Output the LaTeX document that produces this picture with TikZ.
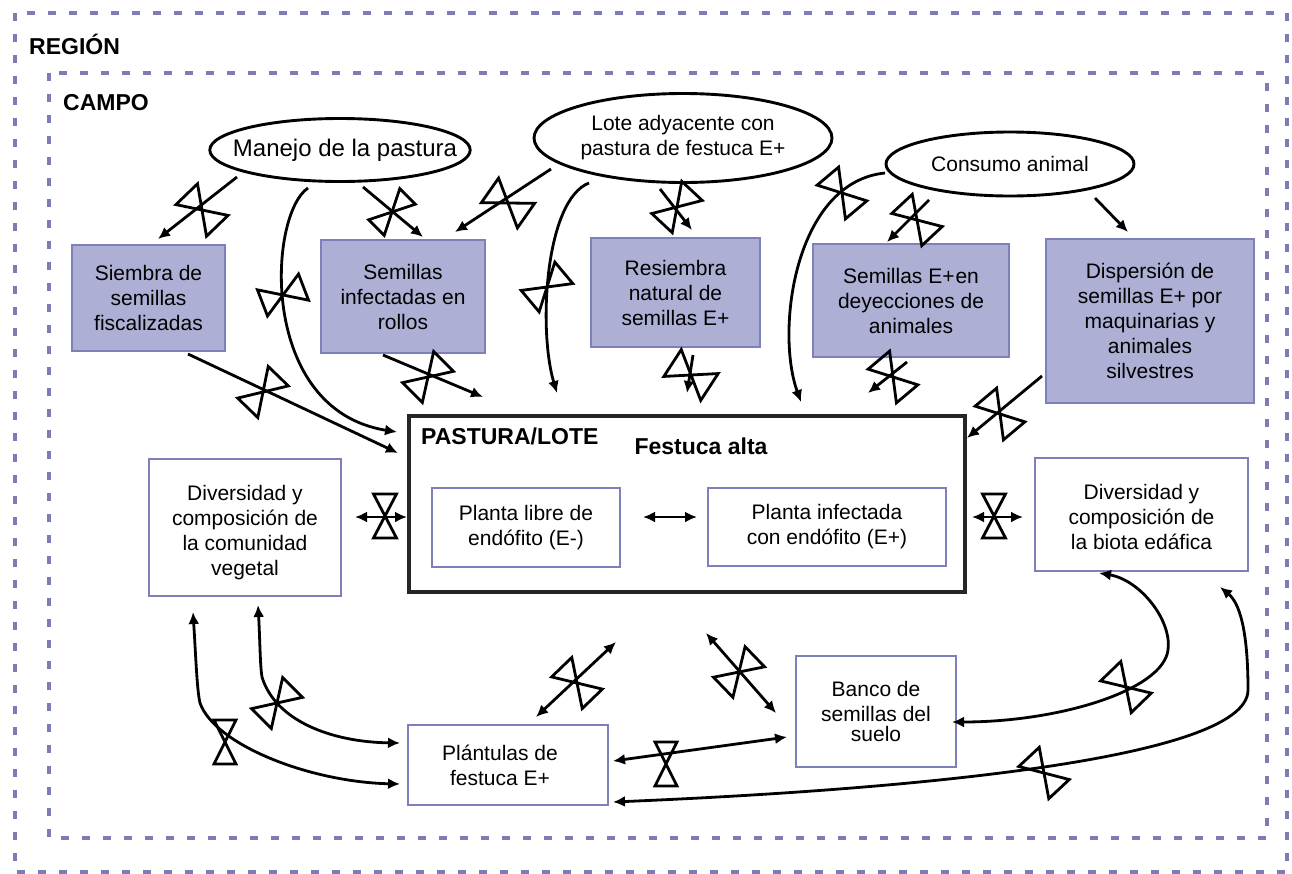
\documentclass[tikz,border=0pt]{standalone}
\usepackage{fontspec}
\setmainfont{Liberation Sans}
\usetikzlibrary{arrows.meta,shapes.geometric}
\definecolor{boxfill}{RGB}{173,175,212}
\definecolor{boxline}{RGB}{126,128,188}
\definecolor{frameline}{RGB}{125,125,182}
\tikzset{
  every node/.style={font=\fontsize{21}{25}\selectfont},
  fbox/.style={rectangle, draw=boxline, fill=boxfill, line width=2pt, align=center, inner sep=0pt},
  wbox/.style={rectangle, draw=boxline, fill=white, line width=2pt, align=center, inner sep=0pt},
  pbox/.style={rectangle, draw=black!85, fill=white, line width=3.5pt, inner sep=0pt},
  oval/.style={ellipse, draw=black, line width=2.9pt, align=center, inner sep=0pt},
  ttl/.style={font=\fontsize{23}{27}\selectfont\bfseries, anchor=west, inner sep=0pt},
  bld/.style={font=\fontsize{23}{27}\selectfont\bfseries, inner sep=0pt},
  conn/.style={line width=2.8pt, -{Latex[length=12pt,width=11pt]}},
  bconn/.style={line width=2.8pt, {Latex[length=12pt,width=11pt]}-{Latex[length=12pt,width=11pt]}},
  frm/.style={draw=frameline, line width=3.6pt, dash pattern=on 8pt off 13pt},
  valvehw/.store in=\valvehw, valvehw=12,
  pics/valve/.style={code={
    \draw[line width=2.8pt, line join=miter]
      (-\valvehw,-22) -- (\valvehw,-22) -- (0,0) -- cycle
      (-\valvehw,22) -- (\valvehw,22) -- (0,0) -- cycle;}},
}
\begin{document}
\begin{tikzpicture}[x=1pt,y=-1pt]
\useasboundingbox (0,0) rectangle (1292,873);
% frames
\draw[frm] (15,13) rectangle (1287,872);
\draw[frm] (49,73) rectangle (1267,838);
\node[ttl] (region) at (29,44) {REGIÓN};
\node[ttl] (campo) at (63,103) {CAMPO};

% ovals
\node[oval, minimum width=256, minimum height=63, inner xsep=-25pt, font=\fontsize{24}{28}\selectfont] (manejo) at (340,150) {\hspace*{10pt}Manejo de la pastura};
\node[oval, minimum width=298, minimum height=89] (lote) at (683,138) {Lote adyacente con\\pastura de festuca E+};
\node[oval, minimum width=248, minimum height=64] (consumo) at (1010,164) {Consumo animal};

% filled boxes
\node[fbox, minimum width=153, minimum height=106] (siembra) at (148.5,298) {Siembra de\\semillas\\fiscalizadas};
\node[fbox, minimum width=164, minimum height=113] (rollos) at (403,296.5) {Semillas\\infectadas en\\rollos};
\node[fbox, minimum width=169, minimum height=109] (resiembra) at (675.5,292.5) {Resiembra\\natural de\\semillas E+};
\node[fbox, minimum width=196, minimum height=113] (deyec) at (911,300.5) {Semillas E+\kern1pt en\\deyecciones de\\animales};
\node[fbox, minimum width=208, minimum height=164] (dispersion) at (1150,321) {Dispersión de\\semillas E+ por\\maquinarias y\\animales\\silvestres};

% pastura
\node[pbox, minimum width=556, minimum height=176] (pastura) at (687,504) {};
\node[ttl] (pasturalbl) at (421,436) {PASTURA/LOTE};
\node[bld] (festuca) at (701,446) {Festuca alta};
\node[wbox, minimum width=188, minimum height=79] (libre) at (526,527.5) {Planta libre de\\endófito (E-)};
\node[wbox, minimum width=238, minimum height=78] (infect) at (827,527) {Planta infectada\\con endófito (E+)};

% white boxes
\node[wbox, minimum width=192, minimum height=137] (vegetal) at (245,527.5) {\rule{0pt}{26pt}Diversidad y\\composición de\\la comunidad\\vegetal};
\node[wbox, minimum width=213, minimum height=113] (biota) at (1141.5,514.5) {\rule{0pt}{20pt}Diversidad y\\composición de\\la biota edáfica};
\node[wbox, minimum width=200, minimum height=80] (plantulas) at (508,765) {Plántulas de\hspace*{16pt}\\festuca E+\hspace*{16pt}};
\node[wbox, minimum width=160, minimum height=111] (banco) at (876,711.5) {Banco de\\semillas del\\[-5pt]suelo};

% connector end points
\coordinate (a1s) at (237,177); \coordinate (a1e) at (158,239);
\coordinate (a2s) at (363,187); \coordinate (a2e) at (423,237);
\coordinate (a3s) at (308,188); \coordinate (a3e) at (397,432);
\coordinate (a4s) at (551,169); \coordinate (a4e) at (455,232);
\coordinate (a5s) at (589,183); \coordinate (a5e) at (557,393);
\coordinate (a6s) at (660,189); \coordinate (a6e) at (692,230);
\coordinate (a7s) at (885,173); \coordinate (a7e) at (801,402);
\coordinate (a8s) at (929,200); \coordinate (a8e) at (887,242);
\coordinate (a9s) at (1095,198); \coordinate (a9e) at (1128,232);
\coordinate (a10s) at (188,354); \coordinate (a10e) at (398,453);
\coordinate (a11s) at (383,355); \coordinate (a11e) at (483,397);
\coordinate (a12s) at (693,355); \coordinate (a12e) at (687,393);
\coordinate (a13s) at (907,362); \coordinate (a13e) at (868,393);
\coordinate (a14s) at (1042,376); \coordinate (a14e) at (967,438);
\coordinate (a15s) at (355,517); \coordinate (a15e) at (407,517);
\coordinate (a16s) at (972,517); \coordinate (a16e) at (1023,517);
\coordinate (a17s) at (536,717); \coordinate (a17e) at (616,642);
\coordinate (a18s) at (706,633); \coordinate (a18e) at (776,713);
\coordinate (a19s) at (613,761); \coordinate (a19e) at (787,737);
\coordinate (a20s) at (1099,573); \coordinate (a20e) at (952,722);
\coordinate (a21s) at (1220,587); \coordinate (a21e) at (613,802);
\coordinate (a22s) at (193,612); \coordinate (a22e) at (400,784);
\coordinate (a23s) at (258,605); \coordinate (a23e) at (400,743);
\coordinate (lp) at (643,517); \coordinate (rp) at (697,517);

% connectors
\draw[conn] (a1s) -- (a1e);
\draw[conn] (a2s) -- (a2e);
\draw[conn] (a3s) .. controls (268,215) and (258,410) .. (a3e);
\draw[conn] (a4s) -- (a4e);
\draw[conn] (a5s) .. controls (545,200) and (538,330) .. (a5e);
\draw[conn] (a6s) -- (a6e);
\draw[conn] (a7s) .. controls (795,182) and (775,330) .. (a7e);
\draw[conn] (a8s) -- (a8e);
\draw[conn] (a9s) -- (a9e);
\draw[conn] (a10s) -- (a10e);
\draw[conn] (a11s) -- (a11e);
\draw[conn] (a12s) -- (a12e);
\draw[conn] (a13s) -- (a13e);
\draw[conn] (a14s) -- (a14e);
\draw[bconn] (a15s) -- (a15e);
\draw[bconn] (a16s) -- (a16e);
\draw[bconn] (a17s) -- (a17e);
\draw[bconn] (a18s) -- (a18e);
\draw[bconn] (a19s) -- (a19e);
\draw[bconn] (lp) -- (rp);
\draw[bconn] (a20s) .. controls (1140,580) and (1172,620) .. (1168,650) .. controls (1163,690) and (1060,722) .. (a20e);
\draw[bconn] (a21s) .. controls (1242,605) and (1248,640) .. (1248,690) .. controls (1248,760) and (900,790) .. (a21e);
\draw[bconn] (a22s) .. controls (196,660) and (197,690) .. (200,703) .. controls (215,745) and (310,782) .. (a22e);
\draw[bconn] (a23s) .. controls (260,640) and (260,665) .. (262,677) .. controls (275,720) and (330,742) .. (a23e);

% valves
\pic[rotate=44, valvehw=15] at (202,210) {valve};
\pic[rotate=-45, valvehw=11] at (392,212) {valve};
\pic[rotate=-69, valvehw=14] at (283,295) {valve};
\pic[rotate=55, valvehw=15] at (508,203) {valve};
\pic[rotate=-50, valvehw=14] at (547,287) {valve};
\pic[rotate=-43, valvehw=14] at (677,207) {valve};
\pic[rotate=40, valvehw=14] at (842,193) {valve};
\pic[rotate=43, valvehw=14] at (917,220) {valve};
\pic[rotate=-44, valvehw=14] at (263,392) {valve};
\pic[rotate=-45, valvehw=14] at (428,377) {valve};
\pic[rotate=57, valvehw=16] at (691,375) {valve};
\pic[rotate=40, valvehw=14] at (893,377) {valve};
\pic[rotate=40, valvehw=14] at (1000,414) {valve};
\pic[valvehw=11.5] at (385,516) {valve};
\pic[valvehw=11.5] at (994,516) {valve};
\pic[rotate=44, valvehw=14] at (577,683) {valve};
\pic[rotate=-46, valvehw=14] at (739,672) {valve};
\pic[valvehw=11] at (666,764) {valve};
\pic[rotate=44, valvehw=14] at (1126,687) {valve};
\pic[rotate=43, valvehw=14] at (1044,773) {valve};
\pic[valvehw=11] at (225,742) {valve};
\pic[rotate=-45, valvehw=14] at (277,703) {valve};
\end{tikzpicture}
\end{document}
